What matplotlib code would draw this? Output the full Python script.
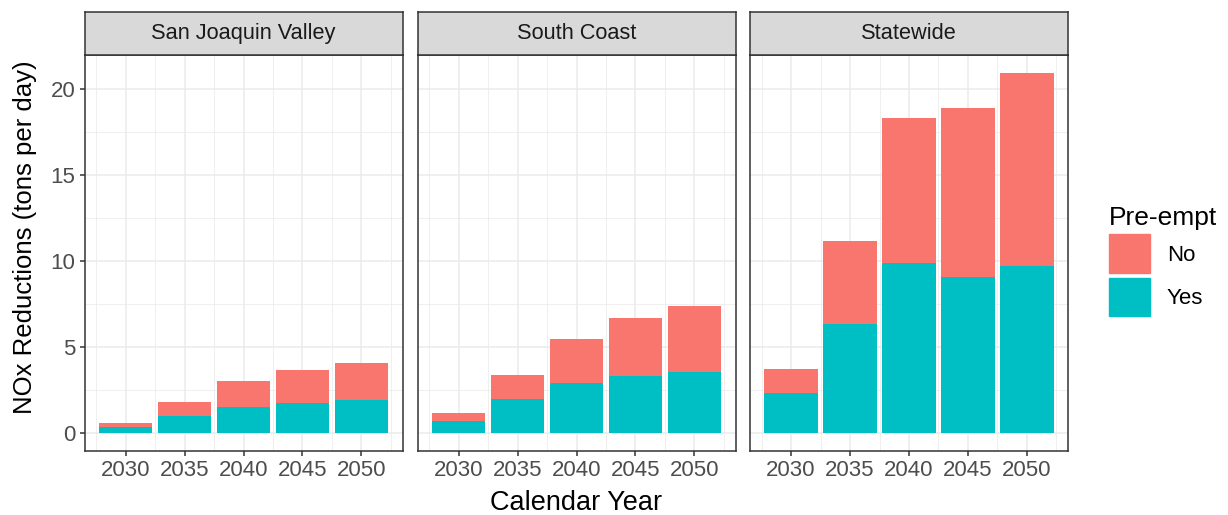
import matplotlib.pyplot as plt
from matplotlib.patches import Patch

plt.rcParams['font.family'] = ['Liberation Sans', 'DejaVu Sans']

regions = ['San Joaquin Valley', 'South Coast', 'Statewide']
years = [2030, 2035, 2040, 2045, 2050]

# Yes / No parts of each stacked bar (tons per day)
yes_vals = {
    'San Joaquin Valley': [0.35, 0.99, 1.53, 1.76, 1.94],
    'South Coast': [0.70, 1.95, 2.88, 3.29, 3.56],
    'Statewide': [2.30, 6.35, 9.86, 9.05, 9.69],
}
total_vals = {
    'San Joaquin Valley': [0.58, 1.78, 3.00, 3.66, 4.05],
    'South Coast': [1.16, 3.39, 5.48, 6.69, 7.38],
    'Statewide': [3.74, 11.18, 18.30, 18.87, 20.93],
}

col_yes = '#00BFC4'
col_no = '#F8766D'
border = '#333333'
grid = '#EBEBEB'
tick_col = '#4D4D4D'

W, H = 1228, 515
fig = plt.figure(figsize=(W / 100, H / 100), dpi=100)

panel_left = [84.5, 417.5, 750]
panel_w = 318
top, bottom = 55, 451
strip_top = 12

ymax = max(max(v) for v in total_vals.values())
ylo, yhi = -0.05 * ymax, 1.05 * ymax
xlo = 2027.75 - 0.05 * 24.5
xhi = 2052.25 + 0.05 * 24.5

for i, reg in enumerate(regions):
    l = panel_left[i]
    ax = fig.add_axes([l / W, 1 - bottom / H, panel_w / W, (bottom - top) / H])
    yes = yes_vals[reg]
    no = [t - y for t, y in zip(total_vals[reg], yes)]
    ax.bar(years, yes, width=4.5, color=col_yes, zorder=3)
    ax.bar(years, no, width=4.5, bottom=yes, color=col_no, zorder=3)
    ax.set_xlim(xlo, xhi)
    ax.set_ylim(ylo, yhi)
    ax.set_xticks(years)
    ax.set_xticks([2027.5, 2032.5, 2037.5, 2042.5, 2047.5, 2052.5], minor=True)
    ax.set_yticks([0, 5, 10, 15, 20])
    ax.set_yticks([2.5, 7.5, 12.5, 17.5], minor=True)
    ax.grid(True, which='major', color=grid, linewidth=1.1, zorder=0)
    ax.grid(True, which='minor', color=grid, linewidth=0.55, zorder=0)
    ax.set_axisbelow(True)
    for s in ax.spines.values():
        s.set_color(border)
        s.set_linewidth(1.1)
    ax.tick_params(which='major', length=3.5, width=1.1, color=border,
                   labelcolor=tick_col, labelsize=16, pad=3)
    ax.tick_params(which='minor', length=0)
    if i > 0:
        ax.tick_params(axis='y', which='major', labelleft=False, length=0)

    # facet strip
    sax = fig.add_axes([l / W, 1 - top / H, panel_w / W, (top - strip_top) / H])
    sax.set_facecolor('#D9D9D9')
    sax.set_xticks([])
    sax.set_yticks([])
    for s in sax.spines.values():
        s.set_color(border)
        s.set_linewidth(1.1)
    sax.text(0.5, 0.5, reg, ha='center', va='center', fontsize=15.7,
             color='#1A1A1A', transform=sax.transAxes)

fig.text(576 / W, 1 - 503 / H, 'Calendar Year', ha='center', va='center',
         fontsize=19.5)
fig.text(25 / W, 1 - 237 / H, 'NOx Reductions (tons per day)',
         ha='center', va='center', rotation=90, fontsize=18.5)

handles = [Patch(color=col_no, label='No'), Patch(color=col_yes, label='Yes')]
fig.legend(handles=handles, title='Pre-empt', frameon=False,
           loc='upper left', bbox_to_anchor=(1089 / W, 1 - 186 / H),
           fontsize=16, title_fontsize=19, handlelength=1.85,
           handleheight=2.3, labelspacing=0.2, handletextpad=0.75,
           alignment='left')

fig.savefig('out.png', dpi=100)
